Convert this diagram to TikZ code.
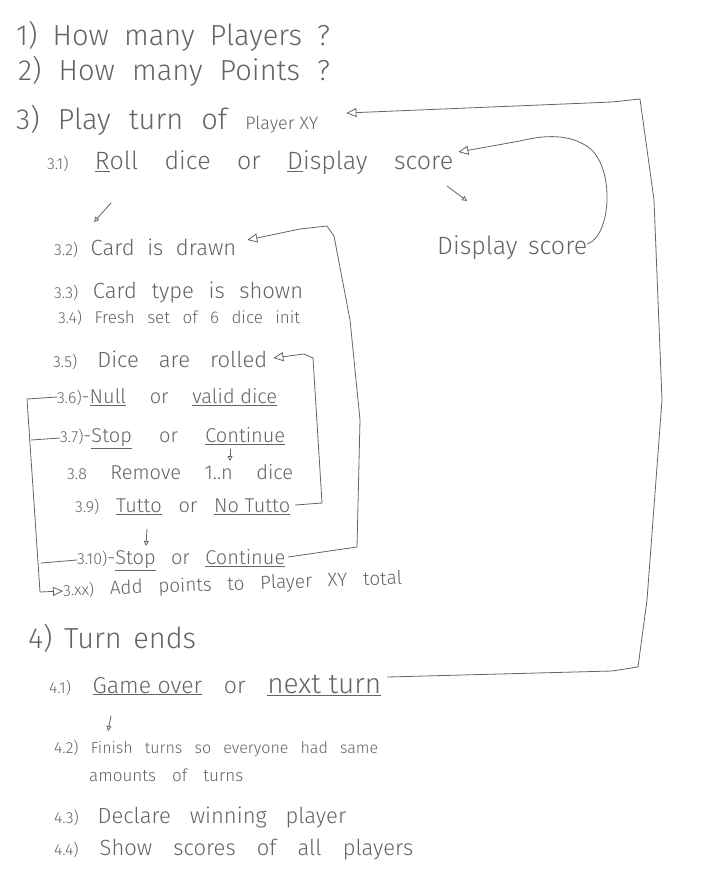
\documentclass[tikz,border=0pt]{standalone}
\usepackage{fontspec}
\setmainfont{Fira Sans Light}
\usetikzlibrary{arrows.meta,positioning}
\definecolor{ink}{HTML}{646464}
\newcommand{\hw}[2]{\makebox[#1pt][s]{#2}}
\newcommand{\fs}[1]{\fontsize{#1}{#1}\selectfont}
\newcommand{\nr}[1]{{\fs{16}#1}}

\begin{document}
\begin{tikzpicture}[x=1pt,y=-1pt]

\tikzset{
  line/.style={draw=ink, line width=0.8pt, line join=round, line cap=round},
  back/.style={line, -{Triangle[open,length=10pt,width=9pt]}},
  tick/.style={line, -{Triangle[open,length=5pt,width=5pt]}},
  hand/.style={anchor=west, inner sep=0pt, text=ink}
}

\useasboundingbox[fill=white] (0,0) rectangle (724,894);

\node[hand, font=\fs{29}] (howplayers) at (16,36) {\hw{314}{1) How many Players ?}};
\node[hand, font=\fs{29}] (howpoints)  at (18,71) {\hw{312}{2) How many Points ?}};
\node[hand, font=\fs{29}] (playturn)   at (16,120) {\hw{302}{3) Play turn of \mbox{\fs{18}Player XY}}};

\node[hand, font=\fs{25}] (rolldice) at (47,163) {\hw{406}{\nr{3.1)} \underline{R}oll dice or \underline{D}isplay score}};
\node[hand, font=\fs{25}] (dscore)   at (437,248) {\hw{150}{Display score}};

\node[hand, font=\fs{22}] (carddrawn)  at (54,248) {\hw{182}{\nr{3.2)} Card is drawn}};
\node[hand, font=\fs{22}] (cardtype)   at (54,292) {\hw{249}{\nr{3.3)} Card type is shown}};
\node[hand, font=\fs{17}] (freshdice)  at (58,318) {\hw{242}{\nr{3.4)} Fresh set of 6 dice init}};
\node[hand, font=\fs{22}] (dicerolled) at (53,360) {\hw{214}{\nr{3.5)} Dice are rolled}};
\node[hand, font=\fs{20}] (nulldice)   at (57,397) {\hw{220}{\nr{3.6)}-\underline{Null} or \underline{valid dice}}};
\node[hand, font=\fs{20}] (stop1)      at (60,438) {\hw{225}{\nr{3.7)}-\underline{Stop} or \underline{Continue}}};
\node[hand, font=\fs{20}] (removedice) at (67,472) {\hw{226}{\nr{3.8} Remove 1..n dice}};
\node[hand, font=\fs{20}] (tutto)      at (75,507) {\hw{215}{\nr{3.9)} \underline{Tutto} or \underline{No Tutto}}};
\node[hand, font=\fs{20}] (stop2)      at (77,560) {\hw{208}{\nr{3.10)}-\underline{Stop} or \underline{Continue}}};
\node[hand, font=\fs{19}, rotate=2] (addpoints) at (63,591) {\hw{339}{\nr{3.xx)} Add points to Player XY total}};

\node[hand, font=\fs{29}] (turnends)   at (28,638) {\hw{168}{4) Turn ends}};
\node[hand, font=\fs{23}] (nextturn)   at (49,685) {\hw{332}{\nr{4.1)} \underline{Game over} or {\fs{28}\underline{next turn}}}};
\node[hand, font=\fs{16}] (finish)     at (54,748) {\hw{324}{\nr{4.2)} Finish turns so everyone had same}};
\node[hand, font=\fs{17}] (amounts)    at (89,775) {\hw{154}{amounts of turns}};
\node[hand, font=\fs{22}] (declare)    at (54,817) {\hw{292}{\nr{4.3)} Declare winning player}};
\node[hand, font=\fs{22}] (showscores) at (54,850) {\hw{359}{\nr{4.4)} Show scores of all players}};

\draw[back] ([xshift=6pt,yshift=8pt]nextturn.east) -- (612,671) -- (638,667) -- (647,600) -- (662,400)
  -- (654,200) -- (640,99) -- (612,102) -- ([xshift=28pt,yshift=7pt]playturn.east);

\draw[back] ([yshift=4pt]dscore.east) .. controls (612,236) and (616,162) .. (585,145)
  .. controls (565,133) and (540,136) .. (520,141) -- ([xshift=5pt,yshift=11pt]rolldice.east);
\draw[tick] (447,186) coordinate (sa) -- (467,201) coordinate (sb);
\draw[tick] (111,203) coordinate (ra) -- (94,222) coordinate (rb);

\draw[back] ([xshift=3pt,yshift=3pt]stop2.east) -- (357,547) -- (360,420) -- (350,320) -- (334,236)
  -- (327,226) -- (300,229) -- ([xshift=11pt,yshift=8pt]carddrawn.east);
\draw[back] ([xshift=5pt,yshift=2pt]tutto.east) -- (322,503) -- (313,358) -- (304,354)
  -- ([xshift=6pt,yshift=2pt]dicerolled.east);

\draw[back] (nulldice.west) -- (27,399) -- (40,592) -- (addpoints.west);
\draw[line] (stop1.west) -- (31,440);
\draw[line] (stop2.west) -- (41,563);

\draw[tick] (230,449) coordinate (ca) -- (230,461) coordinate (cb);
\draw[tick] (147,529) coordinate (ta) -- (146,546) coordinate (tb);
\draw[tick] (111,716) coordinate (ga) -- (108,731) coordinate (gb);

\end{tikzpicture}
\end{document}
